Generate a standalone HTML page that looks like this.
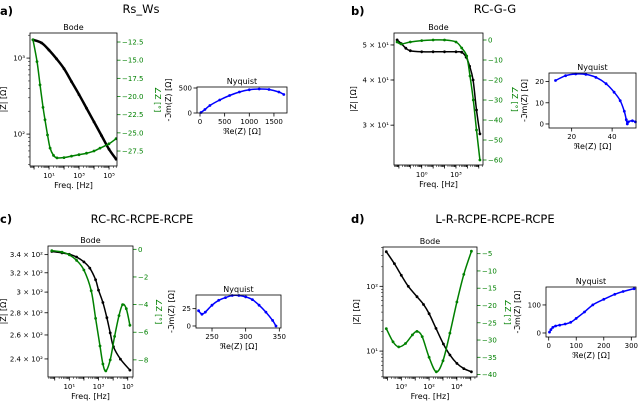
<!DOCTYPE html>
<html><head><meta charset="utf-8">
<style>
html,body{margin:0;padding:0;background:#fff;}
svg text{font-family:"DejaVu Sans","Liberation Sans",sans-serif;}
</style></head>
<body>
<svg id="fig" width="640" height="401" viewBox="0 0 640 401" xmlns="http://www.w3.org/2000/svg">
<g font-size="11.5" fill="#000">
<text x="0" y="15" font-weight="bold">a)</text>
<text x="141" y="13" text-anchor="middle">Rs_Ws</text>
<text x="351" y="15" font-weight="bold">b)</text>
<text x="495" y="13" text-anchor="middle">RC-G-G</text>
<text x="0" y="223" font-weight="bold">c)</text>
<text x="142" y="223" text-anchor="middle">RC-RC-RCPE-RCPE</text>
<text x="351" y="223" font-weight="bold">d)</text>
<text x="495" y="223" text-anchor="middle">L-R-RCPE-RCPE-RCPE</text>
</g>
</svg>
<script>
// ---- Panel a data ----
const aLogFreq = [-0.07,0.5,1,1.5,2,2.5,3,3.5,4,4.5,5,5.47];
const aLogMag = [3.24,3.2,3.105,2.99,2.86,2.69,2.52,2.34,2.16,1.98,1.8,1.67];
const aPhFreq = [-0.07,0.2,0.4,0.6,0.73,0.9,1.07,1.3,1.53,2,2.5,3,3.5,4,4.4,5,5.47];
const aPhase = [-12.2,-15.2,-18.4,-21.5,-23.2,-25.3,-27.1,-28.1,-28.45,-28.4,-28.2,-28.0,-27.8,-27.5,-27.1,-26.5,-25.8];
const aRe = [20,100,200,400,600,800,1000,1200,1400,1600,1700];
const aIm = [10,70,150,260,350,420,465,480,470,420,370];
// ---- Panel b data ----
const bLogFreq = [-2.16,-1.8,-1.4,-1,0,1,2,3,3.5,3.9,4.2,4.5,4.8,5.1];
const bLogMag = [1.713,1.703,1.69,1.683,1.68,1.68,1.68,1.68,1.679,1.665,1.64,1.602,1.519,1.453];
const bPhFreq = [-2.16,-1.8,-1,0,1,2,3,3.5,3.94,4.23,4.52,4.8,5.1];
const bPhase = [-1,-2,-1,-0.3,0,0,-1,-4,-8,-18,-30,-45,-60];
const bRe = [12,17,22,27,32,37,41,44,46,47,47.5,48,50,51.5];
const bIm = [20.5,22.8,23.6,23.4,22,19,15,11,6,2,0,1,1.5,1];
// ---- Panel c data ----
const cLogFreq = [-0.2,0.5,1,1.5,2,2.4,2.8,3,3.3,3.57,3.8,4.02,4.5,5.15];
const cLogMag = [2.536,2.534,2.532,2.528,2.521,2.512,2.495,2.48,2.462,2.44,2.418,2.398,2.38,2.364];
const cPhFreq = [-0.2,0.5,1,1.5,2,2.5,2.8,3.1,3.3,3.5,3.8,4.1,4.4,4.65,4.9,5.15];
const cPhase = [-0.1,-0.2,-0.4,-0.8,-1.5,-3,-5,-7,-8.3,-8.8,-8,-6.3,-4.8,-4,-4.3,-5.5];
const cRe = [230,235,240,250,260,270,280,290,300,310,320,330,340,345];
const cIm = [22,17,20,30,37,41,44,44,42,38,30,20,8,0];
// ---- Panel d data ----
const dLogFreq = [-1.08,-0.5,0,0.5,1.13,1.6,2,2.5,3.03,3.5,4,4.5,5.05];
const dLogMag = [2.535,2.35,2.17,2.0,1.84,1.72,1.578,1.35,1.11,0.94,0.81,0.73,0.68];
const dPhFreq = [-1.08,-0.6,-0.19,0.3,0.8,1.13,1.5,2,2.52,3,3.5,4,4.5,5.05];
const dPhase = [-26.7,-30.5,-32,-31,-28.5,-27.5,-29,-35,-39.2,-36,-28,-19,-11,-4.3];
const dRe = [3,8,15,25,40,60,80,100,130,160,200,240,270,310];
const dIm = [3,12,20,25,28,32,38,52,75,100,120,138,148,158];

const NS='http://www.w3.org/2000/svg';
const fig=document.getElementById('fig');
function el(tag,attrs,parent,txt){const e=document.createElementNS(NS,tag);for(const k in attrs)e.setAttribute(k,attrs[k]);if(txt!==undefined)e.textContent=txt;(parent||fig).appendChild(e);return e;}
const SUP={'0':'⁰','1':'¹','2':'²','3':'³','4':'⁴','5':'⁵','-':'⁻'};
function pow10(n){return '10'+String(n).split('').map(c=>SUP[c]).join('');}
function fmt(v,d){return (v<0?'−':'')+Math.abs(v).toFixed(d||0);}

function smoothPath(pts){
  let d='M'+pts[0][0].toFixed(2)+','+pts[0][1].toFixed(2);
  for(let i=0;i<pts.length-1;i++){
    const p0=pts[Math.max(0,i-1)],p1=pts[i],p2=pts[i+1],p3=pts[Math.min(pts.length-1,i+2)];
    const c1=[p1[0]+(p2[0]-p0[0])/6,p1[1]+(p2[1]-p0[1])/6];
    const c2=[p2[0]-(p3[0]-p1[0])/6,p2[1]-(p3[1]-p1[1])/6];
    d+=' C'+c1.map(v=>v.toFixed(2)).join(',')+' '+c2.map(v=>v.toFixed(2)).join(',')+' '+p2.map(v=>v.toFixed(2)).join(',');
  }
  return d;
}
function series(g,xs,ys,color,w,r,name){
  const pts=xs.map((x,i)=>[x,ys[i]]);
  const p=el('path',{d:smoothPath(pts),fill:'none',stroke:color,'stroke-width':w},g);
  
  
  pts.forEach(q=>{const c=el('circle',{cx:q[0].toFixed(1),cy:q[1].toFixed(1),r:r,fill:color},g);
    
    });
}

function bode(id,c,lf,lm,pf,ph){
  const g=el('g',{});
  
  
  const X=v=>c.x0+(v-c.xl[0])/(c.xl[1]-c.xl[0])*(c.x1-c.x0);
  const Y=v=>c.y1-(v-c.yl[0])/(c.yl[1]-c.yl[0])*(c.y1-c.y0);
  const P=v=>c.y0+(c.ph[0]-v)/(c.ph[0]-c.ph[1])*(c.y1-c.y0);
  for(let d=Math.floor(c.yl[0]);d<=c.yl[1];d++){for(let m=2;m<10;m++){const v=d+Math.log10(m);if(v>c.yl[0]&&v<c.yl[1]){el('line',{x1:c.x0-2,x2:c.x0,y1:Y(v),y2:Y(v),stroke:'#000','stroke-width':0.5},g);}}}
  for(let d=Math.floor(c.xl[0]);d<=c.xl[1];d++){for(let m=1;m<10;m++){const v=d+Math.log10(m);if(v>c.xl[0]&&v<c.xl[1]){el('line',{x1:X(v),x2:X(v),y1:c.y1,y2:c.y1+(m==1?3.5:2),stroke:'#000','stroke-width':m==1?0.8:0.5},g);}}}
  c.xt.forEach(t=>{const tx=el('text',{x:X(t),y:c.y1+12,'font-size':7,'text-anchor':'middle'},g,pow10(t));
    });
  c.yt.forEach(t=>{el('line',{x1:c.x0-3.5,x2:c.x0,y1:Y(t[0]),y2:Y(t[0]),stroke:'#000','stroke-width':0.8},g);
    const tx=el('text',{x:c.x0-5,y:Y(t[0])+2.5,'font-size':7,'text-anchor':'end'},g,t[1]);
    });
  c.pt.forEach(t=>{el('line',{x1:c.x1,x2:c.x1+3.5,y1:P(t),y2:P(t),stroke:'green','stroke-width':0.8},g);
    const tx=el('text',{x:c.x1+5,y:P(t)+2.5,'font-size':7,fill:'green'},g,fmt(t,c.pd));
    });
  const clip=el('clipPath',{id:'clip'+id},g);el('rect',{x:c.x0,y:c.y0,width:c.x1-c.x0,height:c.y1-c.y0},clip);
  const sg=el('g',{'clip-path':'url(#clip'+id+')'},g);
  series(sg,lf.map(X),lm.map(Y),'#000',c.bw||1.5,1.4,id+'-magnitude');
  series(sg,pf.map(X),ph.map(P),'green',1.5,1.4,id+'-phase');
  el('rect',{x:c.x0,y:c.y0,width:c.x1-c.x0,height:c.y1-c.y0,fill:'none',stroke:'#000','stroke-width':0.8},g);
  const t=el('text',{x:(c.x0+c.x1)/2,y:c.y0-3,'font-size':8,'text-anchor':'middle'},g,'Bode');
  
  const xl=el('text',{x:(c.x0+c.x1)/2,y:c.y1+22,'font-size':8,'text-anchor':'middle'},g,'Freq. [Hz]');
  
  const yl=el('text',{x:0,y:0,'font-size':8,'text-anchor':'middle',transform:`translate(${c.lx},${(c.y0+c.y1)/2}) rotate(-90)`},g,'|Z| [Ω]');
  
  const rl=el('text',{x:0,y:0,'font-size':8,fill:'green','text-anchor':'middle',transform:`translate(${c.rx},${(c.y0+c.y1)/2}) rotate(90)`},g,'∠Z [°]');
  
}

function nyq(id,c,re,im){
  const g=el('g',{});
  
  
  const X=v=>c.x0+(v-c.xr[0])/(c.xr[1]-c.xr[0])*(c.x1-c.x0);
  const Y=v=>c.y1-(v-c.yr[0])/(c.yr[1]-c.yr[0])*(c.y1-c.y0);
  c.xt.forEach(t=>{el('line',{x1:X(t),x2:X(t),y1:c.y1,y2:c.y1+3.5,stroke:'#000','stroke-width':0.8},g);
    const tx=el('text',{x:X(t),y:c.y1+11,'font-size':7,'text-anchor':'middle'},g,String(t));
    });
  c.yt.forEach(t=>{el('line',{x1:c.x0-3.5,x2:c.x0,y1:Y(t),y2:Y(t),stroke:'#000','stroke-width':0.8},g);
    const tx=el('text',{x:c.x0-5,y:Y(t)+2.5,'font-size':7,'text-anchor':'end'},g,String(t));
    });
  series(g,re.map(X),im.map(Y),'#0000ff',1.5,1.4,id+'-nyquist');
  el('rect',{x:c.x0,y:c.y0,width:c.x1-c.x0,height:c.y1-c.y0,fill:'none',stroke:'#000','stroke-width':0.8},g);
  const t=el('text',{x:(c.x0+c.x1)/2,y:c.y0-3,'font-size':8,'text-anchor':'middle'},g,'Nyquist');
  
  const xl=el('text',{x:(c.x0+c.x1)/2,y:c.y1+21,'font-size':8,'text-anchor':'middle'},g,'ℜe(Z) [Ω]');
  
  const yl=el('text',{x:0,y:0,'font-size':8,'text-anchor':'middle',transform:`translate(${c.lx},${(c.y0+c.y1)/2}) rotate(-90)`},g,'-ℑm(Z) [Ω]');
  
}

bode('a',{x0:30,x1:117,y0:33,y1:166,xl:[-0.27,5.53],yl:[1.58,3.33],ph:[-11.26,-29.56],pd:1,
  xt:[1,3,5],yt:[[2,'10²'],[3,'10³']],pt:[-12.5,-15,-17.5,-20,-22.5,-25,-27.5],lx:6,rx:155,bw:2.5},aLogFreq,aLogMag,aPhFreq,aPhase);
nyq('a',{x0:197,x1:287,y0:87,y1:113,xr:[-61,1765],yr:[0,520],xt:[0,500,1000,1500],yt:[0,500],lx:171},aRe,aIm);

bode('b',{x0:394,x1:483,y0:33,y1:165,xl:[-2.43,5.37],yl:[1.367,1.732],ph:[3.5,-62.5],
  xt:[0,3],yt:[[Math.log10(30),'3 × 10¹'],[Math.log10(40),'4 × 10¹'],[Math.log10(50),'5 × 10¹']],pt:[0,-10,-20,-30,-40,-50,-60],lx:356,rx:512},bLogFreq,bLogMag,bPhFreq,bPhase);
nyq('b',{x0:549,x1:636,y0:73,y1:128,xr:[8.8,51.8],yr:[-1.9,24.06],xt:[20,40],yt:[0,10,20],lx:527},bRe,bIm);

bode('c',{x0:48,x1:133,y0:246,y1:377,xl:[-0.46,5.36],yl:[2.354,2.544],ph:[0.24,-9.24],
  xt:[1,3,5],yt:[[Math.log10(240),'2.4 × 10²'],[Math.log10(260),'2.6 × 10²'],[Math.log10(280),'2.8 × 10²'],[Math.log10(300),'3 × 10²'],[Math.log10(320),'3.2 × 10²'],[Math.log10(340),'3.4 × 10²']],pt:[0,-2,-4,-6,-8],lx:6,rx:156},cLogFreq,cLogMag,cPhFreq,cPhase);
nyq('c',{x0:196,x1:281,y0:295,y1:328,xr:[226.2,352.5],yr:[-2.9,44.7],xt:[250,300,350],yt:[0,25],lx:174},cRe,cIm);

bode('d',{x0:383,x1:477,y0:247,y1:377,xl:[-1.32,5.45],yl:[0.6,2.607],ph:[-3.07,-40.7],
  xt:[0,2,4],yt:[[1,'10¹'],[2,'10²']],pt:[-5,-10,-15,-20,-25,-30,-35,-40],lx:359,rx:505},dLogFreq,dLogMag,dPhFreq,dPhase);
nyq('d',{x0:546,x1:636,y0:287,y1:337,xr:[-9.8,317],yr:[-14.3,164],xt:[0,100,200,300],yt:[0,100],lx:520},dRe,dIm);
</script>
</body></html>
